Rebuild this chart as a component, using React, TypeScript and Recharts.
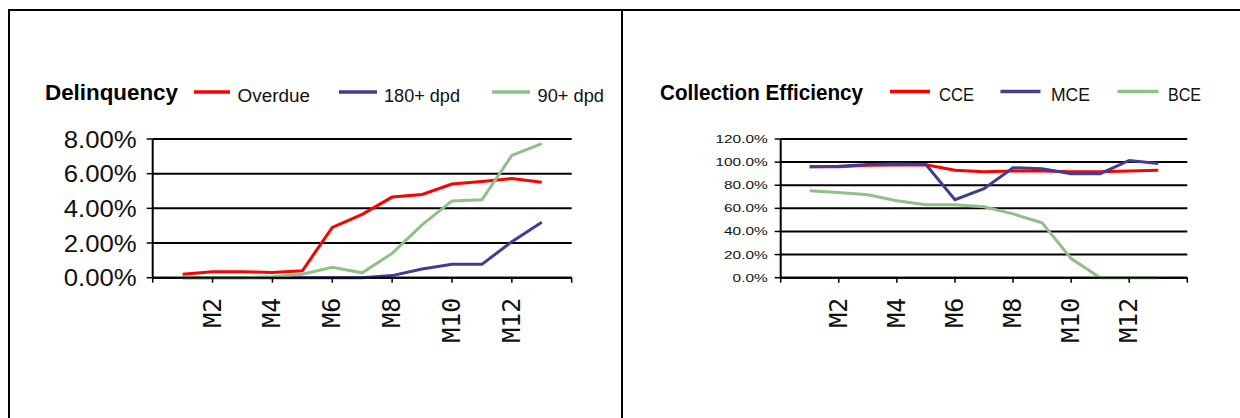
import React from "react";
import { LineChart, Line, XAxis, YAxis, CartesianGrid } from "recharts";

// ---------- data ----------
const months = [1, 2, 3, 4, 5, 6, 7, 8, 9, 10, 11, 12, 13];
const xTickValues = [0, 2, 4, 6, 8, 10, 12, 14];
const xTickLabels = ["", "M2", "M4", "M6", "M8", "M10", "M12", ""];

const overdue = [0.2, 0.35, 0.35, 0.3, 0.4, 2.9, 3.65, 4.65, 4.8, 5.4, 5.55, 5.72, 5.5];
const dpd180 = [0, 0, 0, 0, 0, 0, 0, 0.12, 0.5, 0.77, 0.77, 2.08, 3.2];
const dpd90 = [0, 0, 0, 0.05, 0.2, 0.6, 0.28, 1.4, 3.05, 4.43, 4.49, 7.05, 7.73];
const delinquencyTicks = [0, 2, 4, 6, 8];

const cce = [96, 96, 97.2, 97.5, 97.7, 93, 91.7, 92.3, 92.3, 91.7, 91.7, 92.3, 92.9];
const mce = [96, 96.5, 98, 98.3, 98, 67.5, 77, 95.1, 94.3, 90, 90, 101.4, 98.9];
const bce = [75.2, 73.7, 71.7, 66.6, 63.2, 63.2, 61.4, 55.2, 47.4, 16.6, 0, 0, 0];
const efficiencyTicks = [0, 20, 40, 60, 80, 100, 120];

const RED = "#FF0000";
const PURPLE = "#433D8F";
const GREEN = "#8FC088";

const leftSeries = [
  { key: "overdue", name: "Overdue", color: RED },
  { key: "dpd180", name: "180+ dpd", color: PURPLE },
  { key: "dpd90", name: "90+ dpd", color: GREEN },
];
const rightSeries = [
  { key: "cce", name: "CCE", color: RED },
  { key: "mce", name: "MCE", color: PURPLE },
  { key: "bce", name: "BCE", color: GREEN },
];

const leftData = months.map((m, i) => ({ m, overdue: overdue[i], dpd180: dpd180[i], dpd90: dpd90[i] }));
const rightData = months.map((m, i) => ({ m, cce: cce[i], mce: mce[i], bce: bce[i] }));

// ---------- layout (styles) ----------
const leftLegendLayout = [
  { x1: 194, x2: 230, tx: 237.5, tw: 72.5 },
  { x1: 339, x2: 377, tx: 384, tw: 76 },
  { x1: 492, x2: 530, tx: 537.5, tw: 66.5 },
];
const rightLegendLayout = [
  { x1: 890, x2: 930, tx: 939, tw: 35 },
  { x1: 1000.5, x2: 1040.5, tx: 1051, tw: 39 },
  { x1: 1117.5, x2: 1158.5, tx: 1168, tw: 33 },
];

const XTick = (props: any) => {
  const { x, y, payload } = props;
  const idx = xTickValues.indexOf(payload.value);
  const label = idx >= 0 ? xTickLabels[idx] : "";
  if (!label) return null;
  return (
    <text
      transform={`translate(${x + 8},${y + 13}) rotate(-90)`}
      textAnchor="end"
      fontSize={25}
      fontFamily="DejaVu Sans Mono, Liberation Mono, monospace"
      fill="#111"
    >
      {label}
    </text>
  );
};

const LeftYTick = (props: any) => {
  const { x, y, payload } = props;
  return (
    <text
      x={x}
      y={y + 8.5}
      textAnchor="end"
      fontSize={24}
      textLength={73}
      lengthAdjust="spacingAndGlyphs"
      fontFamily="Liberation Sans, Arial, sans-serif"
      fill="#111"
    >
      {Number(payload.value).toFixed(2) + "%"}
    </text>
  );
};

const RightYTick = (props: any) => {
  const { x, y, payload } = props;
  return (
    <g transform={`translate(${x},${y + 4}) scale(1.4,1)`}>
      <text x={0} y={0} textAnchor="end" fontSize={11} fontFamily="Liberation Sans, Arial, sans-serif" fill="#111">
        {Number(payload.value).toFixed(1) + "%"}
      </text>
    </g>
  );
};

const axisLine = { stroke: "#000", strokeWidth: 2 };
const tickLine = { stroke: "#000", strokeWidth: 1.5 };
const titleFont = "Liberation Sans Narrow, Liberation Sans, Arial, sans-serif";

export default function App() {
  return (
    <div style={{ position: "absolute", left: 0, top: 0, width: 1240, height: 418, background: "#fff", overflow: "hidden" }}>
      <div style={{ position: "absolute", left: 0, top: 0 }}>
        <LineChart width={620} height={418} data={leftData} margin={{ top: 139, right: 48.3, bottom: 0, left: 2.7 }}>
          <CartesianGrid horizontal vertical={false} stroke="#000" strokeWidth={2} />
          <XAxis
            dataKey="m"
            type="number"
            domain={[0, 14]}
            ticks={xTickValues}
            interval={0}
            height={140.3}
            axisLine={axisLine}
            tickLine={tickLine}
            tickSize={5}
            tick={<XTick />}
          />
          <YAxis
            domain={[0, 8]}
            ticks={delinquencyTicks}
            interval={0}
            width={150}
            axisLine={axisLine}
            tickLine={tickLine}
            tickSize={6}
            tickMargin={10}
            tick={<LeftYTick />}
          />
          {leftSeries.map((s) => (
            <Line key={s.key} type="linear" dataKey={s.key} stroke={s.color} strokeWidth={3} dot={false} isAnimationActive={false} />
          ))}
        </LineChart>
      </div>
      <div style={{ position: "absolute", left: 620, top: 0 }}>
        <LineChart width={620} height={418} data={rightData} margin={{ top: 139, right: 52.7, bottom: 0, left: 10.7 }}>
          <CartesianGrid horizontal vertical={false} stroke="#000" strokeWidth={2} />
          <XAxis
            dataKey="m"
            type="number"
            domain={[0, 14]}
            ticks={xTickValues}
            interval={0}
            height={140.3}
            axisLine={axisLine}
            tickLine={tickLine}
            tickSize={5}
            tick={<XTick />}
          />
          <YAxis
            domain={[0, 120]}
            ticks={efficiencyTicks}
            interval={0}
            width={150}
            axisLine={axisLine}
            tickLine={tickLine}
            tickSize={6}
            tickMargin={7}
            tick={<RightYTick />}
          />
          {rightSeries.map((s) => (
            <Line key={s.key} type="linear" dataKey={s.key} stroke={s.color} strokeWidth={3} dot={false} isAnimationActive={false} />
          ))}
        </LineChart>
      </div>
      <svg width={1240} height={418} style={{ position: "absolute", left: 0, top: 0, pointerEvents: "none" }}>
        <rect x={8} y={9} width={1232} height={2} fill="#000" />
        <rect x={8} y={9} width={2} height={409} fill="#000" />
        <rect x={621} y={9} width={2} height={409} fill="#000" />
        <text x={45} y={100} fontSize={22} fontWeight="bold" textLength={133} lengthAdjust="spacingAndGlyphs" fontFamily={titleFont} fill="#000">
          Delinquency
        </text>
        {leftSeries.map((s, i) => {
          const l = leftLegendLayout[i];
          return (
            <g key={s.key}>
              <line x1={l.x1} x2={l.x2} y1={92} y2={92} stroke={s.color} strokeWidth={3.5} />
              <text x={l.tx} y={101.5} fontSize={17.5} textLength={l.tw} lengthAdjust="spacingAndGlyphs" fontFamily={titleFont} fill="#111">
                {s.name}
              </text>
            </g>
          );
        })}
        <text x={660} y={100} fontSize={22} fontWeight="bold" textLength={203} lengthAdjust="spacingAndGlyphs" fontFamily={titleFont} fill="#000">
          Collection Efficiency
        </text>
        {rightSeries.map((s, i) => {
          const l = rightLegendLayout[i];
          return (
            <g key={s.key}>
              <line x1={l.x1} x2={l.x2} y1={91.5} y2={91.5} stroke={s.color} strokeWidth={3.5} />
              <text x={l.tx} y={100.5} fontSize={17.5} textLength={l.tw} lengthAdjust="spacingAndGlyphs" fontFamily={titleFont} fill="#111">
                {s.name}
              </text>
            </g>
          );
        })}
      </svg>
    </div>
  );
}
